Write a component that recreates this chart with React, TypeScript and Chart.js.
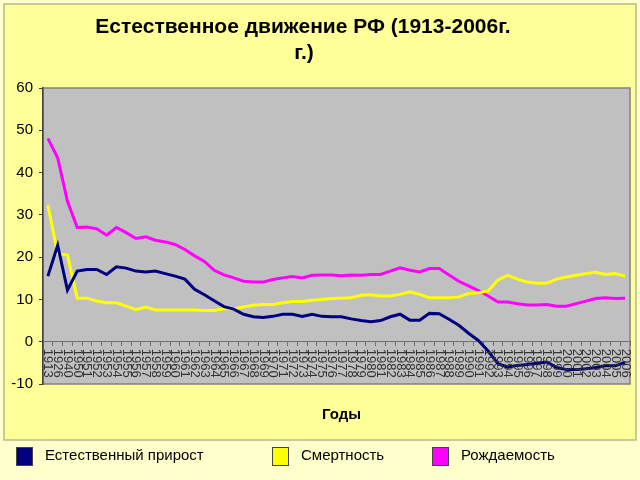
import React, { useEffect, useRef } from "react";
import { Chart, registerables } from "chart.js";

Chart.register(...registerables);

const YEARS = [
  "1913", "1926", "1940", "1950", "1951", "1952", "1953", "1954", "1955", "1956",
  "1957", "1958", "1959", "1960", "1961", "1962", "1963", "1964", "1965", "1966",
  "1967", "1968", "1969", "1970", "1971", "1972", "1973", "1974", "1975", "1976",
  "1977", "1978", "1979", "1980", "1981", "1982", "1983", "1984", "1985", "1986",
  "1987", "1988", "1989", "1990", "1991", "1992", "1993", "1994", "1995", "1996",
  "1997", "1998", "1999", "2000", "2001", "2002", "2003", "2004", "2005", "2006",
];

const NATURAL_INCREASE = [
  15.5, 22.8, 12.2, 16.7, 17.1, 17.1, 15.9, 17.7, 17.4, 16.7,
  16.5, 16.7, 16.1, 15.5, 14.8, 12.4, 11.1, 9.7, 8.3, 7.7,
  6.5, 5.9, 5.7, 6.0, 6.5, 6.5, 6.0, 6.5, 6.0, 5.9,
  5.9, 5.4, 5.0, 4.7, 5.0, 5.9, 6.5, 5.1, 5.1, 6.7,
  6.6, 5.3, 3.9, 2.0, 0.3, -2.2, -5.2, -6.0, -5.6, -5.4,
  -5.1, -4.8, -6.1, -6.6, -6.6, -6.4, -6.1, -5.7, -5.7, -4.9,
];

const DEATH_RATE = [
  32.3, 20.8, 20.5, 10.3, 10.3, 9.6, 9.2, 9.2, 8.4, 7.6,
  8.2, 7.5, 7.5, 7.5, 7.5, 7.5, 7.4, 7.4, 7.8, 7.8,
  8.2, 8.6, 8.8, 8.8, 9.2, 9.5, 9.5, 9.8, 10.0, 10.2,
  10.3, 10.4, 11.0, 11.1, 10.8, 10.8, 11.2, 11.8, 11.2, 10.4,
  10.4, 10.4, 10.6, 11.4, 11.6, 12.0, 14.6, 15.7, 14.8, 14.1,
  13.8, 13.8, 14.8, 15.3, 15.7, 16.1, 16.4, 15.9, 16.1, 15.5,
];

const BIRTH_RATE = [
  48.1, 43.5, 33.2, 27.0, 27.1, 26.7, 25.2, 27.0, 25.8, 24.4,
  24.8, 24.0, 23.6, 23.0, 21.8, 20.3, 19.0, 16.9, 15.8, 15.1,
  14.3, 14.1, 14.1, 14.7, 15.1, 15.4, 15.1, 15.7, 15.8, 15.8,
  15.6, 15.8, 15.7, 15.9, 15.9, 16.7, 17.5, 16.9, 16.5, 17.3,
  17.3, 15.8, 14.3, 13.2, 12.1, 10.8, 9.4, 9.4, 9.0, 8.7,
  8.7, 8.8, 8.4, 8.4, 9.0, 9.6, 10.2, 10.4, 10.2, 10.3,
];

const Y_TICKS = [-10, 0, 10, 20, 30, 40, 50, 60];
const TITLE_LINES = ["Естественное движение РФ (1913-2006г.", "г.)"];
const X_TITLE = "Годы";
const SERIES_NAMES = ["Естественный прирост", "Смертность", "Рождаемость"];
const SERIES_COLORS = ["#000080", "#FFFF00", "#FF00FF"];
const LEGEND_X = [16, 272, 432];

const SANS = "'Liberation Sans', Arial, sans-serif";
const NARROW = "'Liberation Sans Narrow', 'Liberation Sans', Arial, sans-serif";

const decorPlugin = {
  id: "decor",
  beforeDraw(chart: any) {
    const { ctx, chartArea: a } = chart;
    ctx.save();
    ctx.fillStyle = "#FFFFCC";
    ctx.fillRect(0, 0, chart.width, chart.height);
    ctx.fillStyle = "#FFFF99";
    ctx.fillRect(4, 4, 632, 436);
    ctx.strokeStyle = "#B8B890";
    ctx.lineWidth = 1.5;
    ctx.strokeRect(4, 4, 632, 436);
    ctx.fillStyle = "#C0C0C0";
    ctx.fillRect(a.left, a.top, a.right - a.left, a.bottom - a.top);
    ctx.strokeStyle = "#808080";
    ctx.lineWidth = 1.5;
    ctx.strokeRect(a.left, a.top, a.right - a.left, a.bottom - a.top);
    ctx.restore();
  },
  afterDraw(chart: any) {
    const { ctx, chartArea: a } = chart;
    const xs = chart.scales.x;
    const ys = chart.scales.y;
    ctx.save();
    // title
    ctx.fillStyle = "#000";
    ctx.font = `bold 21px ${SANS}`;
    ctx.textAlign = "center";
    ctx.textBaseline = "middle";
    ctx.fillText(TITLE_LINES[0], 303, 27);
    ctx.fillText(TITLE_LINES[1], 304, 53);
    // x tick labels (rotated, reading top to bottom)
    const y0 = ys.getPixelForValue(0);
    ctx.font = `13px ${SANS}`;
    ctx.fillStyle = "#333";
    ctx.textAlign = "left";
    ctx.textBaseline = "middle";
    const labels = chart.data.labels;
    for (let i = 0; i < labels.length; i++) {
      const x = xs.getPixelForTick(i);
      ctx.save();
      ctx.translate(x, y0 + 7);
      ctx.rotate(Math.PI / 2);
      ctx.fillText(String(labels[i]), 0, 0);
      ctx.restore();
    }
    // x title
    ctx.fillStyle = "#000";
    ctx.font = `bold 15px ${SANS}`;
    ctx.textAlign = "center";
    ctx.fillText(X_TITLE, (a.left + a.right) / 2 + 5, 415);
    // legend
    ctx.font = `15px ${SANS}`;
    ctx.textAlign = "left";
    chart.data.datasets.forEach((ds: any, i: number) => {
      const lx = LEGEND_X[i];
      ctx.fillStyle = ds.borderColor;
      ctx.fillRect(lx, 447, 17, 19);
      ctx.strokeStyle = "#444";
      ctx.lineWidth = 1;
      ctx.strokeRect(lx + 0.5, 447.5, 16, 18);
      ctx.fillStyle = "#000";
      ctx.fillText(ds.label, lx + 29, 456);
    });
    ctx.restore();
  },
};

export default function App() {
  const ref = useRef<HTMLCanvasElement | null>(null);
  useEffect(() => {
    if (!ref.current) return;
    const series = [NATURAL_INCREASE, DEATH_RATE, BIRTH_RATE];
    const chart = new Chart(ref.current, {
      type: "line",
      data: {
        labels: YEARS,
        datasets: series.map((d, i) => ({
          label: SERIES_NAMES[i],
          data: d,
          borderColor: SERIES_COLORS[i],
          backgroundColor: SERIES_COLORS[i],
          borderWidth: 3,
          pointRadius: 0,
          tension: 0,
          fill: false,
        })),
      },
      options: {
        animation: false,
        responsive: false,
        maintainAspectRatio: false,
        layout: { padding: { left: 4, top: 88, right: 10, bottom: 96 } },
        plugins: {
          legend: { display: false },
          title: { display: false },
          tooltip: { enabled: false },
        },
        scales: {
          x: {
            type: "category",
            position: { y: 0 } as any,
            offset: true,
            grid: {
              offset: true,
              drawOnChartArea: false,
              drawTicks: true,
              tickLength: 4,
              color: "#707070",
            },
            border: { display: true, color: "#707070", width: 1 },
            ticks: { display: false, autoSkip: false },
          },
          y: {
            position: "left",
            min: Y_TICKS[0],
            max: Y_TICKS[Y_TICKS.length - 1],
            afterBuildTicks: (scale: any) => {
              scale.ticks = Y_TICKS.map((v) => ({ value: v }));
            },
            afterFit: (scale: any) => {
              scale.width = 39;
            },
            grid: {
              drawOnChartArea: false,
              drawTicks: true,
              tickLength: 4,
              color: "#404040",
            },
            border: { display: true, color: "#404040", width: 1.5 },
            ticks: {
              color: "#000",
              padding: 6,
              font: { family: NARROW, size: 15 },
            },
          },
        },
      },
      plugins: [decorPlugin],
    });
    return () => chart.destroy();
  }, []);
  return (
    <div style={{ position: "absolute", left: 0, top: 0, width: 640, height: 480 }}>
      <canvas ref={ref} width={640} height={480} style={{ display: "block" }} />
    </div>
  );
}
